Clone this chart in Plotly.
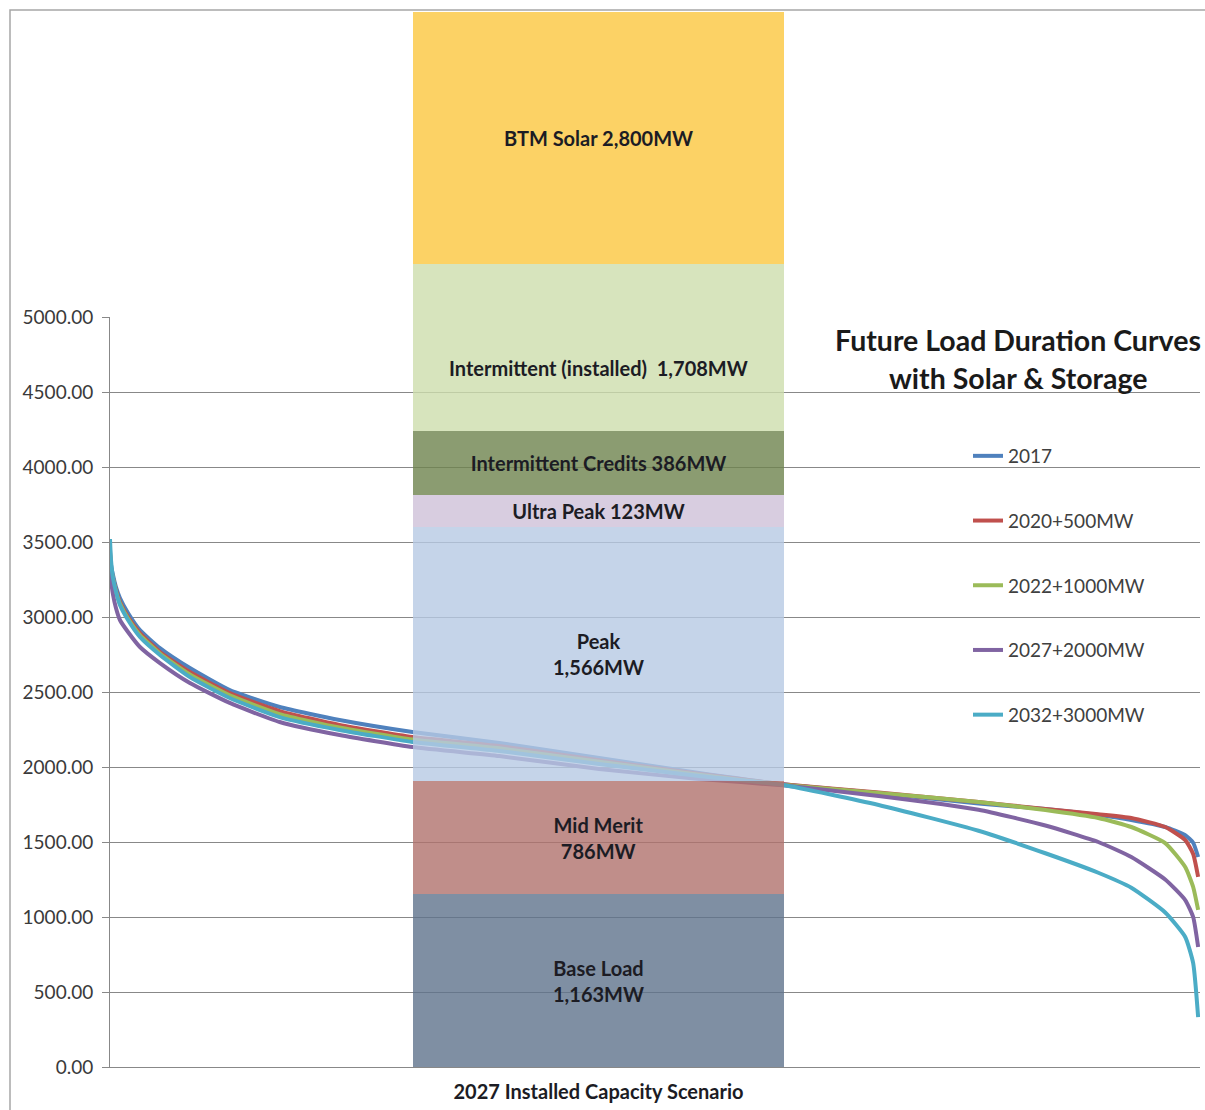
import plotly.graph_objects as go

# ---------------- data ----------------
HOURS = [0, 8, 24, 48, 80, 145, 241, 402, 643, 964, 1366, 1848, 2435, 3134,
         3938, 4742, 5417, 6188, 6992, 7530, 7956, 8222, 8495, 8656, 8720, 8760]

LOAD_2017 = [3450, 3350, 3280, 3200, 3127, 3027, 2913, 2793, 2660, 2513, 2400, 2313, 2233, 2160,
             2060, 1960, 1885, 1825, 1757, 1720, 1680, 1647, 1600, 1545, 1495, 1400]
LOAD_2020 = [3420, 3330, 3260, 3180, 3100, 3000, 2893, 2767, 2633, 2493, 2373, 2280, 2200, 2140,
             2045, 1955, 1885, 1830, 1767, 1720, 1685, 1660, 1600, 1513, 1420, 1267]
LOAD_2022 = [3430, 3330, 3255, 3170, 3090, 2990, 2880, 2757, 2617, 2477, 2353, 2263, 2183, 2125,
             2035, 1948, 1882, 1827, 1767, 1713, 1660, 1600, 1493, 1333, 1200, 1047]
LOAD_2027 = [3350, 3250, 3150, 3060, 2980, 2900, 2800, 2693, 2560, 2427, 2300, 2213, 2133, 2073,
             1987, 1920, 1878, 1807, 1715, 1610, 1500, 1400, 1250, 1113, 1000, 800]
LOAD_2032 = [3520, 3380, 3260, 3170, 3080, 2980, 2867, 2747, 2600, 2460, 2333, 2247, 2167, 2107,
             2020, 1940, 1880, 1747, 1575, 1425, 1295, 1195, 1030, 867, 693, 333]

SERIES_NAMES = ["2017", "2020+500MW", "2022+1000MW", "2027+2000MW", "2032+3000MW"]
SERIES_VALUES = [LOAD_2017, LOAD_2020, LOAD_2022, LOAD_2027, LOAD_2032]

SCENARIO = "2027 Installed Capacity Scenario"
SEGMENT_LABELS = ["Base Load<br>1,163MW", "Mid Merit<br>786MW", "Peak<br>1,566MW",
                  "Ultra Peak 123MW", "Intermittent Credits 386MW",
                  "Intermittent (installed)  1,708MW", "BTM Solar 2,800MW"]
SEGMENT_HEIGHTS = [1153, 754, 1693, 213, 427, 1113, 1680]

Y_TICKS = [0, 500, 1000, 1500, 2000, 2500, 3000, 3500, 4000, 4500, 5000]
Y_TICK_TEXT = [f"{v:.2f}" for v in Y_TICKS]

TITLE_LINES = ["Future Load Duration Curves", "with Solar & Storage"]

# ---------------- styles ----------------
LINE_COLORS = ["#4F81BD", "#C0504D", "#9BBB59", "#8064A2", "#4BACC6"]
SEG_COLORS = ["rgba(95,115,140,0.8)", "rgba(176,114,109,0.8)", "rgba(182,201,228,0.8)",
              "rgba(206,193,216,0.8)", "rgba(110,131,78,0.8)", "rgba(205,221,172,0.8)",
              "rgba(251,199,62,0.8)"]
LABEL_SHIFT = [0, 0, 0, 0, 0, -20, 0]   # vertical text offset (px) per segment
FONT = "Lato"
GRID = "#888888"

W, H = 1205, 1110
L, R, T, B = 110, 5, 12, 43
PLOT_H = H - T - B
CURVE_TOP_PX = 317

fig = go.Figure()

for name, vals, col in zip(SERIES_NAMES, SERIES_VALUES, LINE_COLORS):
    fig.add_trace(go.Scatter(
        x=HOURS, y=vals, name=name, mode="lines", legendgroup=name,
        line=dict(color=col, width=4, shape="spline", smoothing=0.5),
        xaxis="x", yaxis="y"))

label_font = dict(family=FONT, size=20, color="#1c1c24", weight="bold")
annotations = []
base = 0
for lab, h, col, shift in zip(SEGMENT_LABELS, SEGMENT_HEIGHTS, SEG_COLORS, LABEL_SHIFT):
    inside = shift == 0
    fig.add_trace(go.Bar(
        x=[SCENARIO], y=[h], xaxis="x2", yaxis="y2", width=1, showlegend=False,
        marker=dict(color=col, line=dict(width=0)),
        text=[lab if inside else ""], textposition="inside", insidetextanchor="middle",
        textangle=0, constraintext="none", textfont=label_font))
    if not inside:
        annotations.append(dict(text=lab, xref="x2", yref="y2", x=SCENARIO, y=base + h / 2,
                                yshift=shift, showarrow=False, xanchor="center",
                                yanchor="middle", font=label_font))
    base += h

curve_dom_top = (H - B - CURVE_TOP_PX) / PLOT_H
y2_max = 5000 / curve_dom_top

bar_left_px, bar_right_px = 413, 784
ppu = bar_right_px - bar_left_px
x2_lo = -0.5 - (bar_left_px - L) / ppu
x2_hi = 0.5 + (W - R - bar_right_px) / ppu

def py(px):
    return 1 - (px - T) / PLOT_H

def pxx(px):
    return (px - L) / (W - L - R)

title_font = dict(family=FONT, size=28.5, color="#1a1a1a", weight="bold")
annotations += [
    dict(text=TITLE_LINES[0], xref="paper", yref="paper", x=pxx(1018), y=py(340),
         xanchor="center", yanchor="middle", showarrow=False, font=title_font),
    dict(text=TITLE_LINES[1], xref="paper", yref="paper", x=pxx(1018), y=py(378),
         xanchor="center", yanchor="middle", showarrow=False, font=title_font),
]

fig.update_layout(
    width=W, height=H, autosize=False,
    margin=dict(l=L, r=R, t=T, b=B, pad=0, autoexpand=False),
    paper_bgcolor="white", plot_bgcolor="rgba(0,0,0,0)",
    barmode="stack", showlegend=True,
    font=dict(family=FONT, size=18, color="#3a3a3a"),
    xaxis=dict(domain=[0, 1], range=[0, 8775], showgrid=False, zeroline=False,
               showticklabels=False, ticks="", showline=True, linecolor=GRID,
               linewidth=1, anchor="y", fixedrange=True),
    yaxis=dict(domain=[0, curve_dom_top], range=[0, 5000], tickmode="array",
               tickvals=Y_TICKS, ticktext=Y_TICK_TEXT, showgrid=True, gridcolor=GRID,
               gridwidth=1, zeroline=False, showline=True, linecolor=GRID, linewidth=1,
               ticks="outside", ticklen=7, tickcolor=GRID, ticklabelstandoff=5,
               tickfont=dict(family=FONT, size=19, color="#3a3a3a"), anchor="x"),
    xaxis2=dict(domain=[0, 1], range=[x2_lo, x2_hi], type="category", anchor="y2",
                showgrid=False, zeroline=False, showline=False, ticks="",
                ticklabelstandoff=11,
                tickfont=dict(family=FONT, size=20, color="#1c1c24", weight="bold")),
    yaxis2=dict(domain=[0, 1], range=[0, y2_max], visible=False, anchor="x2"),
    legend=dict(x=pxx(968), y=py(437), xanchor="left", yanchor="top",
                bgcolor="rgba(0,0,0,0)", tracegroupgap=37, traceorder="grouped",
                font=dict(family=FONT, size=19, color="#404040")),
    annotations=annotations,
    shapes=[dict(type="rect", xref="paper", yref="paper",
                 x0=pxx(10), x1=pxx(1230), y0=py(1140), y1=py(10),
                 line=dict(color="#a6a6a6", width=1.5), fillcolor="rgba(0,0,0,0)",
                 layer="below")],
)

fig.write_html("out.html")
